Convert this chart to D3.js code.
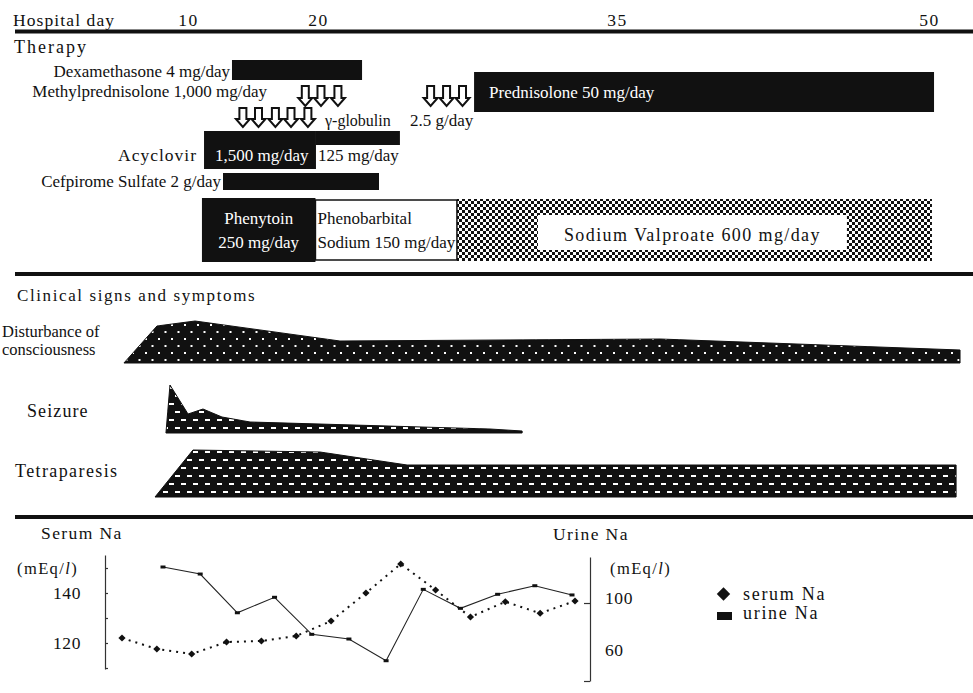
<!DOCTYPE html>
<html>
<head>
<meta charset="utf-8">
<script src="https://cdn.jsdelivr.net/npm/d3@7"></script>
<style>
body { margin: 0; background: #fff; }
svg { display: block; }
.wide { font-family: "Liberation Serif", "Times New Roman", serif; fill: #111; letter-spacing: 1.4px; }
.narrow { font-family: "Liberation Serif", "Times New Roman", serif; fill: #111; }
</style>
</head>
<body>
<div id="chart"></div>
<script>
// hospital day labels on the top axis
const dayTicks = [10, 20, 35, 50];

// therapy periods, [first day, last day]
const dexamethasone = [13.46, 22.26];
const prednisolone = [27.88, 50.29];
const acyclovirHigh = [11.31, 19.92];
const acyclovirLow = [19.92, 24.16];
const cefpirome = [12.77, 23.11];
const phenytoin = [11.15, 19.88];
const phenobarbital = [19.88, 27.02];
const valproate = [27.02, 50.19];

// pulse days (arrows)
const methylprednisoloneDays = [19.1, 20.2, 21.05, 25.7, 26.5, 27.3];
const gammaGlobulinDays = [14.3, 15.5, 16.8, 18.0, 19.3];

// symptom severity, [day, grade]
const consciousness = [[5.15, 0], [7.69, 7.4], [10.62, 8.4], [21.15, 4.4], [37.12, 4.8], [51.54, 2.6]];
const seizure = [[8.38, 0], [8.69, 9.6], [10.08, 3.8], [11.23, 4.8], [12.69, 3.2], [14.85, 2.2], [28.68, 0.8], [30.29, 0.4]];
const tetraparesis = [[7.54, 0], [10.46, 9.4], [20.15, 9.0], [24.52, 6.4], [51.35, 6.4]];

// sodium (mEq/l), successive samples
const serumNa = [122, 117.6, 115.6, 120.4, 120.8, 122.8, 128.8, 140, 151.6, 141.2, 130.4, 136.5, 131.9, 136.8];
const urineNa = [127.7, 122.3, 92.5, 104.4, 75.9, 72.3, 55.6, 110.5, 95.9, 106.7, 113.3, 106.2];
const serumTicks = [110, 120, 130, 140, 150];
const serumLabels = [120, 140];
const urineTicks = [40, 60, 100];
const urineLabels = [60, 100];

const width = 973, height = 693;

const svg = d3.select("#chart").append("svg")
    .attr("width", width)
    .attr("height", height);

// patterns
const defs = svg.append("defs");
const checker = defs.append("pattern").attr("id", "checker")
    .attr("patternUnits", "userSpaceOnUse").attr("width", 6).attr("height", 6);
checker.append("rect").attr("width", 6).attr("height", 6).attr("fill", "#fff");
checker.append("rect").attr("width", 3).attr("height", 3).attr("fill", "#111");
checker.append("rect").attr("x", 3).attr("y", 3).attr("width", 3).attr("height", 3).attr("fill", "#111");

const dots = defs.append("pattern").attr("id", "dots")
    .attr("patternUnits", "userSpaceOnUse").attr("width", 13).attr("height", 14);
dots.append("rect").attr("width", 13).attr("height", 14).attr("fill", "#111");
dots.append("rect").attr("x", 2).attr("y", 2).attr("width", 2).attr("height", 2).attr("fill", "#fff");
dots.append("rect").attr("x", 8.5).attr("y", 9).attr("width", 2).attr("height", 2).attr("fill", "#fff");

const dashes = defs.append("pattern").attr("id", "dashes")
    .attr("patternUnits", "userSpaceOnUse").attr("width", 12).attr("height", 16);
dashes.append("rect").attr("width", 12).attr("height", 16).attr("fill", "#111");
dashes.append("rect").attr("x", 1).attr("y", 3).attr("width", 5).attr("height", 2).attr("fill", "#fff");
dashes.append("rect").attr("x", 7).attr("y", 11).attr("width", 5).attr("height", 2).attr("fill", "#fff");

// day scale, the printed axis is not uniform
const x = d3.scaleLinear()
    .domain(dayTicks)
    .range([187, 317, 616, 928]);

function label(str, xPos, y, anchor, cls, size, color) {
    return svg.append("text")
        .attr("class", cls)
        .attr("x", xPos).attr("y", y)
        .attr("text-anchor", anchor || "start")
        .style("font-size", size + "px")
        .style("fill", color || "#111")
        .text(str);
}

// header
label("Hospital day", 13, 26, "start", "wide", 17.5).style("letter-spacing", "1.1px");

const dayAxis = svg.append("g")
    .attr("transform", "translate(1,29)")
    .call(d3.axisTop(x).tickValues(dayTicks).tickSize(0));
dayAxis.select(".domain").remove();
dayAxis.selectAll("text")
    .attr("class", "wide")
    .style("font-size", "17.5px");

// separators
[31.5, 274, 517].forEach(y => {
    svg.append("line")
        .attr("x1", 15).attr("x2", width)
        .attr("y1", y).attr("y2", y)
        .attr("stroke", "#111")
        .attr("stroke-width", 4);
});

// ---- Therapy ----
label("Therapy", 14, 53, "start", "wide", 18).style("letter-spacing", "2px");

function bar(period, y, h, fill) {
    return svg.append("rect")
        .attr("x", x(period[0]))
        .attr("y", y)
        .attr("width", x(period[1]) - x(period[0]))
        .attr("height", h)
        .attr("fill", fill);
}

bar(dexamethasone, 60, 20, "#111");
label("Dexamethasone 4 mg/day", x(dexamethasone[0]) - 2, 77, "end", "narrow", 17);

label("Methylprednisolone 1,000 mg/day", 267, 97, "end", "narrow", 17);

function arrow(cx, top, h) {
    const sw = 3.5, hw = 7, hh = 8;
    return `M${cx - sw},${top} L${cx + sw},${top} L${cx + sw},${top + h - hh} L${cx + hw},${top + h - hh}` +
        ` L${cx},${top + h} L${cx - hw},${top + h - hh} L${cx - sw},${top + h - hh} Z`;
}

svg.selectAll(".mp-arrow")
    .data(methylprednisoloneDays)
    .join("path")
    .attr("class", "mp-arrow")
    .attr("d", d => arrow(x(d), 86, 20))
    .attr("fill", "#fff")
    .attr("stroke", "#111")
    .attr("stroke-width", 2);

svg.selectAll(".gg-arrow")
    .data(gammaGlobulinDays)
    .join("path")
    .attr("class", "gg-arrow")
    .attr("d", d => arrow(x(d), 108, 19))
    .attr("fill", "#fff")
    .attr("stroke", "#111")
    .attr("stroke-width", 2);

label("\u03b3-globulin", 325, 126, "start", "narrow", 16);
label("2.5 g/day", 410, 126, "start", "narrow", 17);

bar(prednisolone, 72, 40, "#111");
label("Prednisolone 50 mg/day", x(prednisolone[0]) + 15, 98, "start", "narrow", 17, "#fff");

bar(acyclovirHigh, 131, 38, "#111");
bar(acyclovirLow, 131, 14, "#111");
label("Acyclovir", 197, 161, "end", "wide", 17.5).style("letter-spacing", "1px");
label("1,500 mg/day", x(acyclovirHigh[0]) + 11, 161, "start", "narrow", 17, "#fff");
label("125 mg/day", x(acyclovirLow[0]) + 2, 161, "start", "narrow", 17);

bar(cefpirome, 173, 17, "#111");
label("Cefpirome Sulfate 2 g/day", x(cefpirome[0]) - 2, 187, "end", "narrow", 17);

// anticonvulsants
bar(valproate, 199, 62, "url(#checker)");
bar(phenobarbital, 200, 60, "#fff")
    .attr("stroke", "#111")
    .attr("stroke-width", 1.5);
bar(phenytoin, 198, 64, "#111");

const phtMid = (x(phenytoin[0]) + x(phenytoin[1])) / 2;
label("Phenytoin", phtMid, 224, "middle", "narrow", 17, "#fff");
label("250 mg/day", phtMid, 248, "middle", "narrow", 17, "#fff");
label("Phenobarbital", x(phenobarbital[0]) + 2, 224, "start", "narrow", 17);
label("Sodium 150 mg/day", x(phenobarbital[0]) + 2, 248, "start", "narrow", 17);

const vpaMid = (x(valproate[0]) + x(valproate[1])) / 2 - 2;
const vpaBox = svg.append("rect").attr("fill", "#fff");
const vpaText = label("Sodium Valproate 600 mg/day", vpaMid, 241, "middle", "wide", 18)
    .style("letter-spacing", "1.4px");
const vpaW = vpaText.node().getComputedTextLength();
vpaBox.attr("x", vpaMid - vpaW / 2 - 26)
    .attr("y", 215)
    .attr("width", vpaW + 52)
    .attr("height", 35);

// ---- Clinical signs and symptoms ----
label("Clinical signs and symptoms", 17, 301, "start", "wide", 17).style("letter-spacing", "1.6px");

const grade = d3.scaleLinear().domain([0, 10]).range([0, 50]);

function symptom(data, base, fill) {
    const area = d3.area()
        .x(d => x(d[0]))
        .y0(base)
        .y1(d => base - grade(d[1]));
    svg.append("path")
        .datum(data)
        .attr("d", area)
        .attr("fill", fill)
        .attr("stroke", "#111")
        .attr("stroke-width", 1);
}

symptom(consciousness, 363, "url(#dots)");
symptom(seizure, 433, "url(#dashes)");
symptom(tetraparesis, 497, "url(#dashes)");

label("Disturbance of", 2, 337, "start", "narrow", 16.5);
label("consciousness", 2, 355, "start", "narrow", 16.5);
label("Seizure", 27, 417, "start", "wide", 18).style("letter-spacing", "1.1px");
label("Tetraparesis", 15, 477, "start", "wide", 18);

// ---- Sodium ----
label("Serum Na", 41, 539, "start", "wide", 17.5);
label("Urine Na", 553, 540, "start", "wide", 17.5);

const yS = d3.scaleLinear().domain([109.6, 155.2]).range([669, 555]);
const yU = d3.scaleLinear().domain([40, 135.4]).range([681, 557]);
const xS = d3.scalePoint().domain(d3.range(serumNa.length)).range([122, 575]);
const xU = d3.scalePoint().domain(d3.range(urineNa.length)).range([163, 572]);

const leftAxis = svg.append("g")
    .attr("transform", "translate(105,0)")
    .call(d3.axisLeft(yS)
        .tickValues(serumTicks)
        .tickSize(-3)
        .tickSizeOuter(0)
        .tickPadding(24)
        .tickFormat(d => serumLabels.includes(d) ? d : ""));

const rightAxis = svg.append("g")
    .attr("transform", "translate(590,0)")
    .call(d3.axisRight(yU)
        .tickValues(urineTicks)
        .tickSize(-6)
        .tickSizeOuter(0)
        .tickPadding(15)
        .tickFormat(d => urineLabels.includes(d) ? d : ""));
rightAxis.selectAll(".tick").filter(d => d === 60).select("line").remove();

[leftAxis, rightAxis].forEach(a => {
    a.selectAll("path, line").attr("stroke", "#333").attr("stroke-width", 1.2);
    a.selectAll("text")
        .attr("class", "wide")
        .style("font-size", "17.5px")
        .style("letter-spacing", "0.6px");
});
rightAxis.selectAll("text").attr("dy", "0.05em");

function unitLabel(xPos) {
    const t = svg.append("text").attr("class", "wide")
        .attr("x", xPos).attr("y", 574)
        .style("font-size", "16.5px");
    t.append("tspan").text("(mEq/");
    t.append("tspan").style("font-style", "italic").text("l");
    t.append("tspan").text(")");
}
unitLabel(17);
unitLabel(610);

// urine Na: solid line, small squares
svg.append("path")
    .datum(urineNa)
    .attr("d", d3.line().x((d, i) => xU(i)).y(d => yU(d)))
    .attr("fill", "none")
    .attr("stroke", "#222")
    .attr("stroke-width", 1.1);
svg.selectAll(".u-pt")
    .data(urineNa)
    .join("rect")
    .attr("class", "u-pt")
    .attr("x", (d, i) => xU(i) - 2.5)
    .attr("y", d => yU(d) - 1.5)
    .attr("width", 5)
    .attr("height", 3)
    .attr("fill", "#111");

// serum Na: dotted line, diamonds
svg.append("path")
    .datum(serumNa)
    .attr("d", d3.line().x((d, i) => xS(i)).y(d => yS(d)))
    .attr("fill", "none")
    .attr("stroke", "#111")
    .attr("stroke-width", 2)
    .attr("stroke-dasharray", "2 5");
svg.selectAll(".s-pt")
    .data(serumNa)
    .join("path")
    .attr("class", "s-pt")
    .attr("d", d3.symbol(d3.symbolSquare, 26))
    .attr("transform", (d, i) => `translate(${xS(i)},${yS(d)}) rotate(45)`)
    .attr("fill", "#111");

// legend
svg.append("path")
    .attr("d", d3.symbol(d3.symbolSquare, 90))
    .attr("transform", "translate(723.5,594) rotate(45)")
    .attr("fill", "#111");
label("serum Na", 743, 600, "start", "wide", 18).style("letter-spacing", "1.7px");
svg.append("rect")
    .attr("x", 717).attr("y", 612)
    .attr("width", 15).attr("height", 8)
    .attr("fill", "#111");
label("urine Na", 743, 619, "start", "wide", 18).style("letter-spacing", "1.7px");
</script>
</body>
</html>
